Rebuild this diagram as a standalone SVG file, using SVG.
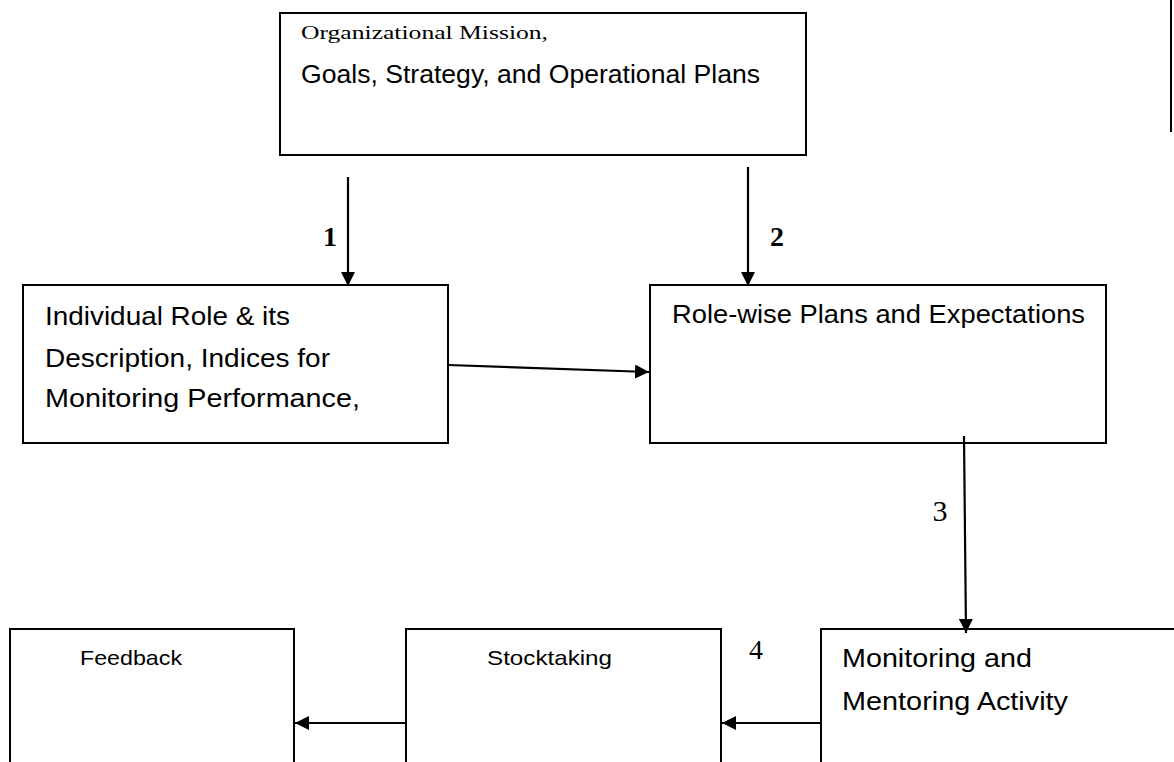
<svg xmlns="http://www.w3.org/2000/svg" width="1174" height="762" viewBox="0 0 1174 762">
<style>
.box{fill:#fff;stroke:#000;stroke-width:2}
.sans{font-family:"Liberation Sans",Arial,sans-serif;font-size:25px;fill:#000}
.small{font-size:21px}
.serif{font-family:"Liberation Serif","Times New Roman",serif;fill:#000}
.conn{stroke:#000;stroke-width:2.2;fill:none;marker-end:url(#ah)}
</style>
<defs>
<marker id="ah" markerWidth="14" markerHeight="14" refX="14" refY="7" orient="auto" markerUnits="userSpaceOnUse">
<path d="M0,0 L14,7 L0,14 Z" fill="#000"/>
</marker>
</defs>
<rect width="1174" height="762" fill="#fff"/>
<line x1="1171" y1="0" x2="1171" y2="132" stroke="#000" stroke-width="2"/>
<g id="mission">
<rect class="box" x="280" y="13" width="526" height="142"/>
<text class="serif" x="301" y="39" font-size="19" textLength="247" lengthAdjust="spacingAndGlyphs">Organizational Mission,</text>
<text class="sans" x="301" y="83" textLength="459" lengthAdjust="spacingAndGlyphs">Goals, Strategy, and Operational Plans</text>
</g>
<g id="role">
<rect class="box" x="23" y="285" width="425" height="158"/>
<text class="sans" x="45" y="325" textLength="245" lengthAdjust="spacingAndGlyphs">Individual Role &amp; its</text>
<text class="sans" x="45" y="367" textLength="285" lengthAdjust="spacingAndGlyphs">Description, Indices for</text>
<text class="sans" x="45" y="407" textLength="315" lengthAdjust="spacingAndGlyphs">Monitoring Performance,</text>
</g>
<g id="plans">
<rect class="box" x="650" y="285" width="456" height="158"/>
<text class="sans" x="672" y="323" textLength="413" lengthAdjust="spacingAndGlyphs">Role-wise Plans and Expectations</text>
</g>
<g id="feedback">
<rect class="box" x="10" y="629" width="284" height="140"/>
<text class="sans small" x="80" y="665" textLength="102" lengthAdjust="spacingAndGlyphs">Feedback</text>
</g>
<g id="stocktaking">
<rect class="box" x="406" y="629" width="315" height="140"/>
<text class="sans small" x="487" y="665" textLength="125" lengthAdjust="spacingAndGlyphs">Stocktaking</text>
</g>
<g id="monitoring">
<rect class="box" x="821" y="629" width="370" height="140"/>
<text class="sans" x="842" y="667" textLength="190" lengthAdjust="spacingAndGlyphs">Monitoring and</text>
<text class="sans" x="842" y="710" textLength="226" lengthAdjust="spacingAndGlyphs">Mentoring Activity</text>
</g>
<g id="connectors">
<line class="conn" x1="348" y1="177" x2="348" y2="286"/>
<line class="conn" x1="748" y1="167" x2="748" y2="286"/>
<line class="conn" x1="448" y1="365" x2="649" y2="372"/>
<line class="conn" x1="964" y1="436" x2="966" y2="633"/>
<line class="conn" x1="821" y1="723" x2="722" y2="723"/>
<line class="conn" x1="406" y1="723" x2="295" y2="723"/>
<text class="serif" x="330" y="246" font-size="28" font-weight="bold" text-anchor="middle">1</text>
<text class="serif" x="777" y="246" font-size="28" font-weight="bold" text-anchor="middle">2</text>
<text class="serif" x="940" y="521" font-size="30" text-anchor="middle">3</text>
<text class="serif" x="756" y="659" font-size="28" text-anchor="middle">4</text>
</g>
</svg>
